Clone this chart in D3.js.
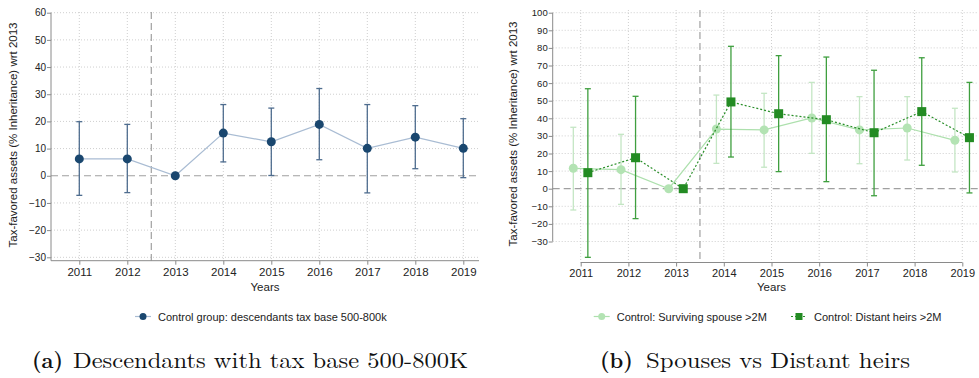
<!DOCTYPE html>
<html><head><meta charset="utf-8">
<script src="https://cdn.jsdelivr.net/npm/d3@7/dist/d3.min.js"></script>
<style>body{margin:0;background:#fff}svg{display:block;font-family:"Liberation Sans",Arial,sans-serif}</style>
</head><body><svg id="c" width="979" height="378"></svg>
<script>
// ---------- data ----------
const years = [2011,2012,2013,2014,2015,2016,2017,2018,2019];
// Panel (a)
const descEst = [6.2, 6.2, 0, 15.7, 12.5, 18.9, 10.1, 14.2, 10.1];
const descLo  = [-7.2, -6.2, null, 5.1, 0.1, 5.9, -6.3, 2.6, -0.7];
const descHi  = [19.9, 18.9, null, 26.2, 24.9, 32.1, 26.2, 25.8, 21.0];
// Panel (b)
const spouseEst = [11.6, 10.8, 0, 33.9, 33.4, 40.2, 33.4, 34.5, 27.5];
const spouseLo  = [-12.1, -8.9, null, 14.4, 12.2, 20.1, 14.2, 16.3, 9.5];
const spouseHi  = [34.9, 30.9, null, 53.2, 54.2, 60.4, 52.3, 52.3, 45.7];
const heirsEst = [9.1, 17.6, 0, 49.3, 42.6, 39.2, 31.8, 43.8, 29.0];
const heirsLo  = [-39.0, -17.0, null, 18.0, 9.7, 4.0, -4.0, 13.3, -2.4];
const heirsHi  = [56.8, 52.5, null, 80.9, 75.6, 74.8, 67.3, 74.4, 60.4];
const yTicksA = [-30,-20,-10,0,10,20,30,40,50,60];
const yTicksB = [-30,-20,-10,0,10,20,30,40,50,60,70,80,90,100];
const yTitle = "Tax-favored assets (% Inheritance) wrt 2013";
const xTitle = "Years";
const legendA = ["Control group: descendants tax base 500-800k"];
const legendB = ["Control: Surviving spouse >2M", "Control: Distant heirs >2M"];
const captionA = ["(a)", "Descendants with tax base 500-800K"];
const captionB = ["(b)", "Spouses vs Distant heirs"];

const svg = d3.select("#c");
const GRID = "#cfcfcf";

function panel(o){
  const g = svg.append("g");
  const x = d3.scaleLinear().domain([2011,2019]).range(o.xr);
  const y = d3.scaleLinear().domain([o.yTicks[0], o.yTicks[o.yTicks.length-1]]).range(o.yr);
  g.append("g").selectAll("line").data(o.yTicks.filter(t=>t!==0)).join("line")
    .attr("x1", o.axX).attr("x2", o.gridRight).attr("y1", d=>y(d)).attr("y2", d=>y(d))
    .attr("stroke", GRID).attr("stroke-width",1).attr("stroke-dasharray","1,2");
  g.append("g").selectAll("line").data(years).join("line")
    .attr("x1", d=>x(d)).attr("x2", d=>x(d)).attr("y1", o.gridTop).attr("y2", o.axY)
    .attr("stroke", GRID).attr("stroke-width",1).attr("stroke-dasharray","1,2");
  g.append("line").attr("x1", o.axX).attr("x2", o.gridRight).attr("y1", y(0)).attr("y2", y(0))
    .attr("stroke","#a0a0a0").attr("stroke-width",1.2).attr("stroke-dasharray","7,4");
  g.append("line").attr("x1", x(o.vline)).attr("x2", x(o.vline)).attr("y1", o.gridTop).attr("y2", o.axY)
    .attr("stroke","#a0a0a0").attr("stroke-width",1.2).attr("stroke-dasharray","7,4");
  const ya = g.append("g").attr("transform",`translate(${o.axX},0)`)
    .call(d3.axisLeft(y).tickValues(o.yTicks).tickSize(4).tickSizeOuter(0));
  ya.select(".domain").remove();
  ya.append("line").attr("x1",0).attr("x2",0).attr("y1",y.range()[1]).attr("y2",o.yAxisBottom).attr("stroke","#8a8a8a");
  ya.selectAll(".tick line").attr("stroke","#8a8a8a");
  ya.selectAll(".tick text").attr("font-size",o.yFont).attr("fill","#222").attr("x",-5).attr("font-family","Liberation Sans, Arial, sans-serif");
  const xa = g.append("g").attr("transform",`translate(0,${o.axY})`)
    .call(d3.axisBottom(x).tickValues(years).tickFormat(d3.format("d")).tickSize(4).tickSizeOuter(0));
  xa.select(".domain").remove();
  xa.append("line").attr("x1",o.xAxisLeft).attr("x2",o.xAxisRight).attr("y1",0).attr("y2",0).attr("stroke","#8a8a8a");
  xa.selectAll(".tick line").attr("stroke","#8a8a8a");
  xa.selectAll(".tick text").attr("font-size",o.xFont).attr("fill","#222").attr("y",7).attr("font-family","Liberation Sans, Arial, sans-serif");
  g.append("text").attr("transform",`translate(${o.yTitleX},${o.yTitleY}) rotate(-90)`)
    .attr("text-anchor","middle").attr("font-size",11.5).attr("fill","#222").text(yTitle);
  g.append("text").attr("x",o.xTitleX).attr("y",291).attr("text-anchor","middle").attr("font-size",11.5).attr("fill","#222").text(xTitle);
  return {g,x,y};
}

function series(P, est, lo, hi, off, s){
  const pts = years.map((yr,i)=>({x:P.x(yr+off), e:est[i], lo:lo[i], hi:hi[i]}));
  const eb = P.g.append("g");
  pts.filter(d=>d.lo!==null).forEach(d=>{
    eb.append("line").attr("x1",d.x).attr("x2",d.x).attr("y1",P.y(d.lo)).attr("y2",P.y(d.hi)).attr("stroke",s.ci).attr("stroke-width",1.3);
    [d.lo,d.hi].forEach(v=>eb.append("line").attr("x1",d.x-3).attr("x2",d.x+3).attr("y1",P.y(v)).attr("y2",P.y(v)).attr("stroke",s.ci).attr("stroke-width",1.3));
  });
  P.g.append("path").datum(pts).attr("fill","none").attr("stroke",s.line).attr("stroke-width",1.2)
    .attr("stroke-dasharray",s.dash||null)
    .attr("d",d3.line().x(d=>d.x).y(d=>P.y(d.e)));
  const m = P.g.append("g");
  pts.forEach(d=>drawMarker(m, d.x, P.y(d.e), s));
}
function drawMarker(m, cx, cy, s){
  if(s.shape==="square") m.append("rect").attr("x",cx-(s.h||4.5)).attr("y",cy-(s.h||4.5)).attr("width",2*(s.h||4.5)).attr("height",2*(s.h||4.5)).attr("fill",s.marker);
  else m.append("circle").attr("cx",cx).attr("cy",cy).attr("r",s.r||4.5).attr("fill",s.marker);
}
function legendItem(x0, y0, s, label){
  const g = svg.append("g");
  g.append("line").attr("x1",x0-8).attr("x2",x0+8).attr("y1",y0).attr("y2",y0).attr("stroke",s.line).attr("stroke-width",1.2).attr("stroke-dasharray",s.dash||null);
  drawMarker(g, x0, y0, Object.assign({}, s, {r:3.5, h:3.5}));
  g.append("text").attr("x",x0+15).attr("y",y0+4).attr("font-size",11).attr("fill","#222").text(label);
}
function caption(x0, w0, x1, w1, parts){
  const f = "'Latin Modern Roman','Liberation Serif',serif";
  svg.append("text").attr("x",x0).attr("y",368).attr("font-family",f).attr("font-size",22).attr("font-weight","bold").attr("fill","#111")
    .attr("textLength",w0).attr("lengthAdjust","spacingAndGlyphs").text(parts[0]);
  svg.append("text").attr("x",x1).attr("y",368).attr("font-family",f).attr("font-size",22).attr("fill","#111")
    .attr("textLength",w1).attr("lengthAdjust","spacingAndGlyphs").text(parts[1]);
}

// Panel A
const A = panel({xr:[79.3,463.3], yr:[257.3,12.7], yTicks:yTicksA, axX:51, axY:260.7, gridRight:479, gridTop:12, vline:2012.5,
  yAxisBottom:260.7, xAxisLeft:51, xAxisRight:479, yFont:10, xFont:11.5, yTitleX:17, yTitleY:135, xTitleX:265});
const sA = {ci:"#4f6d8f", line:"#a9bcd3", marker:"#1a476f", r:4.5};
series(A, descEst, descLo, descHi, 0, sA);
legendItem(143, 316.5, sA, legendA[0]);

// Panel B
const B = panel({xr:[580.7,962.3], yr:[241.5,12.7], yTicks:yTicksB, axX:552.7, axY:262.5, gridRight:978, gridTop:10, vline:2013.5,
  yAxisBottom:241.5, xAxisLeft:580.7, xAxisRight:962.3, yFont:9.5, xFont:11, yTitleX:517, yTitleY:134, xTitleX:771.5});
const sS = {ci:"#c4e6c4", line:"#ade0ad", marker:"#b3e3b3", r:4.5};
const sH = {ci:"#3f9f3f", line:"#2a8f2a", marker:"#238b23", shape:"square", dash:"2,2"};
series(B, spouseEst, spouseLo, spouseHi, -0.155, sS);
series(B, heirsEst, heirsLo, heirsHi, 0.15, sH);
legendItem(601.7, 316.5, sS, legendB[0]);
legendItem(799, 316.5, sH, legendB[1]);

caption(32, 31, 73, 395, captionA);
caption(600, 33, 646, 264, captionB);
</script></body></html>
